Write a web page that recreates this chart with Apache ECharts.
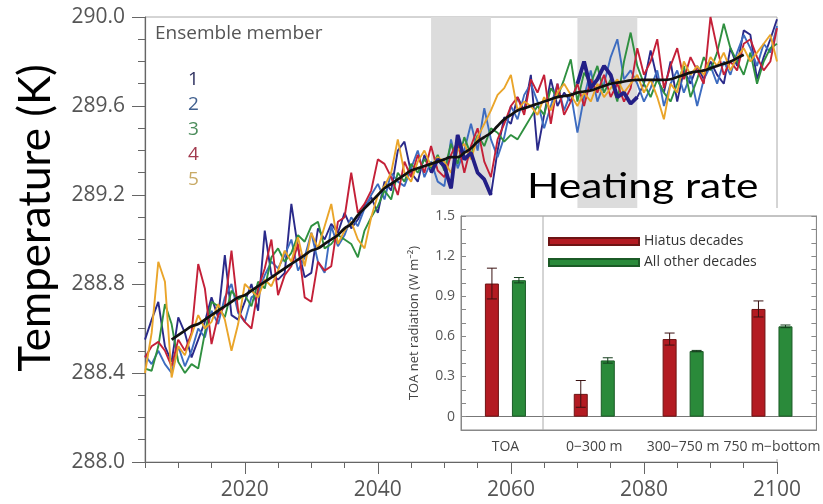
<!DOCTYPE html>
<html>
<head>
<meta charset="utf-8">
<script src="https://cdn.jsdelivr.net/npm/echarts@6/dist/echarts.min.js"></script>
<style>
  html, body { margin: 0; padding: 0; background: #fff; }
  #chart { width: 823px; height: 504px; }
</style>
</head>
<body>
<div id="chart"></div>
<script>
// ---- Global mean surface temperature, five ensemble members (K) ----
const firstYear = 2005;
const lastYear = 2100;
const years = [];
for (let y = firstYear; y <= lastYear; y++) years.push(y);

const memberNames = ['1', '2', '3', '4', '5'];

const member1 = [
  288.55, 288.64, 288.72, 288.52, 288.45, 288.65, 288.58, 288.47, 288.55, 288.63,
  288.74, 288.65, 288.93, 288.66, 288.64, 288.72, 288.80, 288.68, 289.04, 288.84,
  288.82, 288.85, 289.16, 288.96, 288.83, 288.85, 289.05, 289.00, 289.07, 289.03,
  289.12, 289.05, 289.09, 289.15, 289.19, 289.12, 289.26, 289.22, 289.40, 289.44,
  289.30, 289.26, 289.38, 289.30, 289.36, 289.33, 289.23, 289.47, 289.36, 289.39,
  289.30, 289.27, 289.20, 289.40, 289.55, 289.52, 289.64, 289.58, 289.74, 289.40,
  289.56, 289.72, 289.60, 289.66, 289.62, 289.70, 289.80, 289.68, 289.72, 289.78,
  289.74, 289.64, 289.66, 289.61, 289.64, 289.70, 289.85, 289.72, 289.66, 289.80,
  289.62, 289.76, 289.70, 289.78, 289.72, 289.80, 289.74, 289.70, 289.86, 289.78,
  289.94, 289.92, 289.72, 289.82, 289.90, 289.99
];
const member2 = [
  288.48, 288.44, 288.50, 288.44, 288.40, 288.52, 288.43, 288.50, 288.60, 288.56,
  288.68, 288.62, 288.74, 288.80, 288.67, 288.63, 288.74, 288.76, 288.84, 288.90,
  288.87, 288.93, 289.00, 288.86, 288.92, 289.03, 288.90, 288.85, 289.06, 288.97,
  289.02, 289.10, 289.06, 289.14, 289.20, 289.25, 289.18, 289.30, 289.26, 289.24,
  289.32, 289.40, 289.28, 289.35, 289.26, 289.24, 289.45, 289.32, 289.40, 289.52,
  289.40, 289.59, 289.45, 289.37, 289.46, 289.60, 289.54, 289.65, 289.70, 289.62,
  289.50, 289.60, 289.70, 289.58, 289.66, 289.48, 289.64, 289.76, 289.62, 289.70,
  289.82, 289.90, 289.72, 289.76, 289.70, 289.62, 289.68, 289.76, 289.60, 289.70,
  289.76, 289.66, 289.74, 289.60, 289.72, 289.78, 289.70, 289.80, 289.74, 289.84,
  289.92, 289.86, 289.78, 289.88, 289.84, 289.96
];
const member3 = [
  288.42, 288.41, 288.52, 288.71, 288.62, 288.45, 288.40, 288.44, 288.42, 288.58,
  288.72, 288.70, 288.65, 288.77, 288.73, 288.75, 288.70, 288.81, 288.78, 288.92,
  288.96, 288.90, 288.94, 289.02, 288.99, 289.06, 289.08, 288.96, 288.98, 289.02,
  289.00, 288.98, 288.92, 289.04, 289.10, 289.15, 289.22, 289.18, 289.30, 289.26,
  289.34, 289.30, 289.36, 289.32, 289.38, 289.31, 289.43, 289.34, 289.46, 289.38,
  289.47, 289.42, 289.50, 289.48, 289.44, 289.47, 289.45, 289.50, 289.55, 289.60,
  289.56, 289.68, 289.64, 289.72, 289.81, 289.62, 289.75, 289.70, 289.78, 289.66,
  289.72, 289.62, 289.80, 289.93, 289.78, 289.70, 289.64, 289.72, 289.66, 289.62,
  289.70, 289.78, 289.64, 289.72, 289.82, 289.76, 289.84, 289.97, 289.86, 289.80,
  289.74, 289.84, 289.70, 289.80, 289.86, 289.88
];
const member4 = [
  288.47, 288.52, 288.54, 288.50, 288.43, 288.55, 288.50, 288.58, 288.89, 288.78,
  288.53, 288.66, 288.70, 288.95, 288.68, 288.63, 288.60, 288.78, 288.87, 289.00,
  288.75, 288.84, 288.88, 288.98, 288.74, 288.72, 288.90, 288.86, 288.88, 289.08,
  289.10, 289.30, 289.12, 289.16, 289.22, 289.36, 289.34, 289.28, 289.20, 289.35,
  289.28, 289.38, 289.30, 289.42, 289.31, 289.28, 289.38, 289.44, 289.30, 289.42,
  289.50, 289.35, 289.28, 289.45, 289.52, 289.60, 289.64, 289.56, 289.72, 289.66,
  289.74, 289.52, 289.70, 289.56, 289.62, 289.70, 289.60, 289.72, 289.66, 289.74,
  289.64, 289.70, 289.62, 289.68, 289.86, 289.74, 289.80, 289.90, 289.68, 289.78,
  289.86, 289.72, 289.82, 289.76, 289.70, 290.00, 289.86, 289.74, 289.80, 289.76,
  289.88, 289.90, 289.82, 289.76, 289.80, 289.95
];
const member5 = [
  288.40, 288.58, 288.90, 288.81, 288.38, 288.52, 288.48, 288.57, 288.66, 288.60,
  288.63, 288.71, 288.64, 288.50, 288.62, 288.80, 288.77, 288.74, 288.82, 288.79,
  288.86, 288.95, 288.90, 289.01, 288.88, 289.03, 288.96, 289.06, 289.16, 288.98,
  289.04, 289.08, 289.00, 288.96, 289.10, 289.20, 289.24, 289.30, 289.45, 289.30,
  289.26, 289.35, 289.40, 289.33, 289.37, 289.35, 289.30, 289.40, 289.43, 289.36,
  289.46, 289.52, 289.58, 289.65, 289.68, 289.74, 289.58, 289.62, 289.60, 289.56,
  289.64, 289.58, 289.66, 289.70, 289.65, 289.60, 289.66, 289.62, 289.70, 289.64,
  289.68, 289.72, 289.66, 289.70, 289.74, 289.66, 289.72, 289.64, 289.54, 289.70,
  289.66, 289.80, 289.74, 289.78, 289.74, 289.82, 289.78, 289.84, 289.76, 289.82,
  289.86, 289.80, 289.84, 289.88, 289.92, 289.80
];

// Smoothed ensemble mean, 2009-2095
const meanFirstYear = 2009;
const ensembleMean = [
  288.55, 288.57, 288.59, 288.61, 288.62, 288.64, 288.66, 288.68, 288.70, 288.72,
  288.74, 288.75, 288.77, 288.79, 288.81, 288.83, 288.85, 288.87, 288.89, 288.91,
  288.93, 288.95, 288.96, 288.98, 289.00, 289.02, 289.05, 289.07, 289.11, 289.14,
  289.17, 289.20, 289.23, 289.25, 289.27, 289.29, 289.31, 289.32, 289.33, 289.34,
  289.35, 289.36, 289.37, 289.37, 289.39, 289.41, 289.44, 289.46, 289.48, 289.51,
  289.54, 289.56, 289.58, 289.59, 289.60, 289.61, 289.62, 289.63, 289.64, 289.645,
  289.65, 289.66, 289.665, 289.67, 289.68, 289.69, 289.70, 289.705, 289.71, 289.715,
  289.717, 289.717, 289.717, 289.717, 289.717, 289.72, 289.73, 289.74, 289.75, 289.755,
  289.76, 289.77, 289.78, 289.79, 289.80, 289.815, 289.83
];

// Hiatus decades (shaded) and the lower edge of each shading
const hiatusStart = [2048, 2070];
const hiatusEnd = [2057, 2079];
const hiatusShadeBottom = [289.2, 289.14];

// ---- Inset: heating rate by layer (W m-2) ----
const layers = ['TOA', '0\u2212300 m', '300\u2212750 m', '750 m\u2212bottom'];
const hiatusRate = [0.995, 0.17, 0.58, 0.805];
const hiatusErr = [0.115, 0.10, 0.045, 0.06];
const otherRate = [1.02, 0.42, 0.49, 0.675];
const otherErr = [0.02, 0.02, 0.005, 0.01];

// ---- styling ----
const lineColors = ['#2a2a8a', '#3d6cc0', '#2f9040', '#c42038', '#eaa52a'];
const numberColors = ['#2e3160', '#41608f', '#4b8c5b', '#a23a4e', '#c8aa66'];
const tickFont = '"Open Sans", "Noto Sans", sans-serif';
const titleFont = 'Lato, "Open Sans", sans-serif';
const axisGray = '#666';

const members = [member1, member2, member3, member4, member5];

const chart = echarts.init(document.getElementById('chart'), null, { renderer: 'canvas' });

const BAR_W = 14;
const BAR_GAP_PX = 13;
const barOffset = (BAR_W + BAR_GAP_PX) / 2;

function errorBars(values, errs, side, color) {
  return {
    type: 'custom',
    xAxisIndex: 2,
    yAxisIndex: 1,
    z: 7,
    silent: true,
    data: values.map((v, i) => [i, v - errs[i], v + errs[i]]),
    renderItem(params, api) {
      const lo = api.coord([api.value(0), api.value(1)]);
      const hi = api.coord([api.value(0), api.value(2)]);
      const x = lo[0] + side * barOffset;
      const cap = 5;
      const st = { stroke: color, lineWidth: 1 };
      return {
        type: 'group',
        children: [
          { type: 'line', shape: { x1: x, y1: lo[1], x2: x, y2: hi[1] }, style: st },
          { type: 'line', shape: { x1: x - cap, y1: hi[1], x2: x + cap, y2: hi[1] }, style: st },
          { type: 'line', shape: { x1: x - cap, y1: lo[1], x2: x + cap, y2: lo[1] }, style: st }
        ]
      };
    }
  };
}

const inHiatus = (y) => hiatusStart.some((s, k) => y >= s && y <= hiatusEnd[k]);

const series = [];
// shaded hiatus decades
series.push({
  type: 'line',
  xAxisIndex: 0, yAxisIndex: 0,
  data: [],
  z: 1,
  silent: true,
  markArea: {
    silent: true,
    itemStyle: { color: '#dcdcdc' },
    data: hiatusStart.map((s, k) => [
      { xAxis: s, yAxis: 290 },
      { xAxis: hiatusEnd[k], yAxis: hiatusShadeBottom[k] }
    ])
  }
});
members.forEach((m, i) => {
  series.push({
    name: memberNames[i],
    type: 'line',
    xAxisIndex: 0, yAxisIndex: 0,
    data: years.map((y, k) => [y, m[k]]),
    symbol: 'none',
    lineStyle: { color: lineColors[i], width: 1.9 },
    itemStyle: { color: lineColors[i] },
    z: 2,
    animation: false
  });
});
// member 1 emphasised through the hiatus decades
series.push({
  name: 'member 1 (hiatus)',
  type: 'line',
  xAxisIndex: 0, yAxisIndex: 0,
  data: years.map((y, k) => [y, inHiatus(y) ? member1[k] : '-']),
  symbol: 'none',
  connectNulls: false,
  lineStyle: { color: '#231f86', width: 3.8 },
  z: 2,
  animation: false
});
series.push({
  name: 'mean',
  type: 'line',
  xAxisIndex: 0, yAxisIndex: 0,
  data: ensembleMean.map((v, k) => [meanFirstYear + k, v]),
  symbol: 'none',
  smooth: true,
  lineStyle: { color: '#111', width: 2.7 },
  z: 2,
  animation: false
});
// inset bars
series.push({
  name: 'Hiatus decades',
  type: 'bar',
  xAxisIndex: 2, yAxisIndex: 1,
  data: hiatusRate,
  barWidth: BAR_W,
  barGap: (BAR_GAP_PX / BAR_W * 100).toFixed(0) + '%',
  itemStyle: { color: '#b31b22', borderColor: '#6e1414', borderWidth: 1 },
  z: 6,
  animation: false,
  markLine: {
    silent: true,
    symbol: 'none',
    label: { show: false },
    lineStyle: { color: '#777', width: 1, type: 'solid' },
    data: [{ yAxis: 0 }]
  }
});
series.push({
  name: 'All other decades',
  type: 'bar',
  xAxisIndex: 2, yAxisIndex: 1,
  data: otherRate,
  barWidth: BAR_W,
  itemStyle: { color: '#2a8a3a', borderColor: '#1b5a26', borderWidth: 1 },
  z: 6,
  animation: false
});
series.push(errorBars(hiatusRate, hiatusErr, -1, '#3a1212'));
series.push(errorBars(otherRate, otherErr, 1, '#143d1c'));

// inset geometry
const inset = { left: 461, top: 216, right: 3, bottom: 74 };

const option = {
  backgroundColor: '#fff',
  animation: false,
  grid: [
    { left: 145, top: 17, right: 46, bottom: 42, show: true, borderColor: '#aaa', borderWidth: 1, backgroundColor: 'transparent', z: 0 },
    { left: inset.left, top: inset.top, right: inset.right, bottom: inset.bottom, show: true, borderColor: '#888', borderWidth: 1, backgroundColor: 'transparent', z: 5 }
  ],
  xAxis: [
    {
      type: 'value', gridIndex: 0, min: firstYear, max: lastYear, interval: 5,
      axisLine: { lineStyle: { color: axisGray, width: 1.2 } },
      axisTick: { length: 6, lineStyle: { color: axisGray } },
      axisLabel: {
        margin: 18, fontSize: 21, color: '#555', fontFamily: tickFont,
        formatter: (v) => (v % 20 === 0 ? String(v) : '')
      },
      splitLine: { show: false }
    },
    {
      type: 'value', gridIndex: 0, min: firstYear, max: lastYear, position: 'bottom',
      axisLine: { show: false },
      axisTick: { show: true, length: 12, customValues: [2020, 2040, 2060, 2080, 2100], lineStyle: { color: axisGray } },
      axisLabel: { show: false },
      splitLine: { show: false }
    },
    {
      type: 'category', gridIndex: 1, data: layers, z: 6,
      axisLine: { onZero: false, lineStyle: { color: '#888' } },
      axisTick: { alignWithLabel: true, length: 4, lineStyle: { color: '#888' } },
      axisLabel: { interval: 0, margin: 10, fontSize: 14, color: '#444', fontFamily: tickFont },
      splitLine: { show: false }
    }
  ],
  yAxis: [
    {
      type: 'value', gridIndex: 0, min: 288, max: 290, interval: 0.4,
      axisLine: { show: true, lineStyle: { color: axisGray, width: 1.2 } },
      axisTick: { show: true, length: 13, lineStyle: { color: axisGray } },
      minorTick: { show: true, splitNumber: 4, length: 7, lineStyle: { color: axisGray } },
      axisLabel: { margin: 20, fontSize: 21, color: '#555', fontFamily: tickFont, formatter: (v) => v.toFixed(1) },
      splitLine: { show: false }
    },
    {
      type: 'value', gridIndex: 1, min: -0.1, max: 1.5, interval: 0.1, z: 6,
      name: 'TOA net radiation (W m\u207B\u00B2)',
      nameLocation: 'middle', nameRotate: 90, nameGap: 40,
      nameTextStyle: { fontSize: 13, color: '#444', fontFamily: tickFont },
      axisLine: { show: true, lineStyle: { color: '#888' } },
      axisTick: { show: true, inside: true, length: 5, lineStyle: { color: '#888' } },
      axisLabel: {
        margin: 6, fontSize: 14, color: '#555', fontFamily: tickFont,
        formatter: (v) => {
          const k = Math.round(v * 10);
          if (k < 0 || k % 3 !== 0) return '';
          return k === 0 ? '0' : (k / 10).toFixed(1);
        }
      },
      splitLine: { show: false }
    },
    {
      type: 'value', gridIndex: 1, min: -0.1, max: 1.5, interval: 0.1, position: 'right', z: 6,
      axisLine: { show: true, lineStyle: { color: '#888' } },
      axisTick: { show: true, inside: true, length: 5, lineStyle: { color: '#888' } },
      axisLabel: { show: false },
      splitLine: { show: false }
    }
  ],
  legend: [
    {
      data: memberNames.map((n, i) => ({ name: n, textStyle: { color: numberColors[i] } })),
      orient: 'vertical', left: 182, top: 70, padding: 0,
      itemWidth: 0, itemHeight: 0, itemGap: 5,
      itemStyle: { opacity: 0 }, lineStyle: { opacity: 0 },
      selectedMode: false,
      textStyle: { fontSize: 19, lineHeight: 20, fontFamily: tickFont },
      z: 4
    },
    {
      data: ['Hiatus decades', 'All other decades'],
      orient: 'vertical', left: 548, top: 233, padding: 0,
      itemWidth: 90, itemHeight: 7, itemGap: 4,
      icon: 'rect',
      selectedMode: false,
      textStyle: { fontSize: 14, color: '#333', fontFamily: tickFont, lineHeight: 17 },
      z: 7
    }
  ],
  graphic: [
    {
      type: 'rect', z: 3, silent: true,
      shape: { x: 385, y: 208, width: 438, height: 251 },
      style: { fill: '#fff' }
    },
    {
      type: 'line', z: 6, silent: true,
      shape: { x1: 543, y1: inset.top, x2: 543, y2: 504 - inset.bottom },
      style: { stroke: '#aaa', lineWidth: 1 }
    },
    {
      type: 'text', z: 4, silent: true, x: 155, y: 34,
      style: { text: 'Ensemble member', fontSize: 19, fontFamily: tickFont, fill: '#555', align: 'left', verticalAlign: 'middle' }
    },
    {
      type: 'text', z: 8, silent: true, x: 527, y: 187, scaleX: 1.25,
      style: { text: 'Heating rate', fontSize: 34, fontFamily: titleFont, fill: '#000', align: 'left', verticalAlign: 'middle' }
    },
    {
      type: 'text', z: 8, silent: true, x: 36, y: 218, rotation: Math.PI / 2,
      style: { text: 'Temperature (K)', fontSize: 44, fontFamily: titleFont, fill: '#000', align: 'center', verticalAlign: 'middle' }
    }
  ],
  series: series
};

chart.setOption(option);
</script>
</body>
</html>
